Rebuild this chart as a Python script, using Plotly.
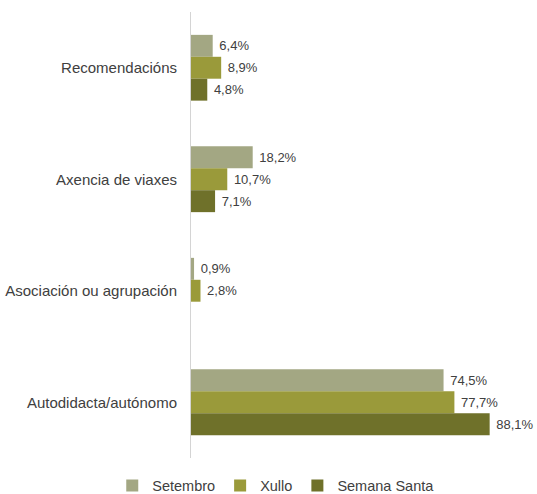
import plotly.graph_objects as go

categories = ["Recomendacións", "Axencia de viaxes", "Asociación ou agrupación", "Autodidacta/autónomo"]
series_names = ["Setembro", "Xullo", "Semana Santa"]
setembro = [6.4, 18.2, 0.9, 74.5]
xullo = [8.9, 10.7, 2.8, 77.7]
semana_santa = [4.8, 7.1, None, 88.1]
colors = ["#a3a783", "#9a9a3a", "#6f712a"]

fig = go.Figure()
for name, vals, col in zip(series_names, [setembro, xullo, semana_santa], colors):
    fig.add_trace(go.Bar(
        y=categories, x=vals, name=name, orientation="h",
        marker=dict(color=col, line=dict(width=0)),
        texttemplate=" %{x:.1f}%", textposition="outside",
        textfont=dict(size=13, color="#404040", family="Liberation Sans"),
        cliponaxis=False,
    ))

fig.update_layout(
    width=537, height=494,
    margin=dict(l=191, r=7, t=12, b=36, autoexpand=False),
    barmode="group", bargap=0.41, bargroupgap=0,
    separators=", ",
    paper_bgcolor="white", plot_bgcolor="white",
    font=dict(family="Liberation Sans", size=13, color="#404040"),
    showlegend=True,
    legend=dict(orientation="h", x=0.25, xanchor="center", y=-0.062, yanchor="middle",
                font=dict(size=14.5, color="#404040"), itemwidth=30, traceorder="normal",
                tracegroupgap=0),
    xaxis=dict(range=[0, 100], showgrid=False, showticklabels=False, zeroline=False,
               showline=False, ticks="", automargin=False),
    yaxis=dict(autorange="reversed", showgrid=False, showline=True, linecolor="#d4d4d4",
               linewidth=1, ticks="", ticklabelstandoff=10, automargin=False,
               tickfont=dict(size=15, color="#404040")),
)
fig.write_html("out.html", config={"displayModeBar": False},
               post_script="document.body.style.margin='0px';document.body.style.overflow='hidden';")
